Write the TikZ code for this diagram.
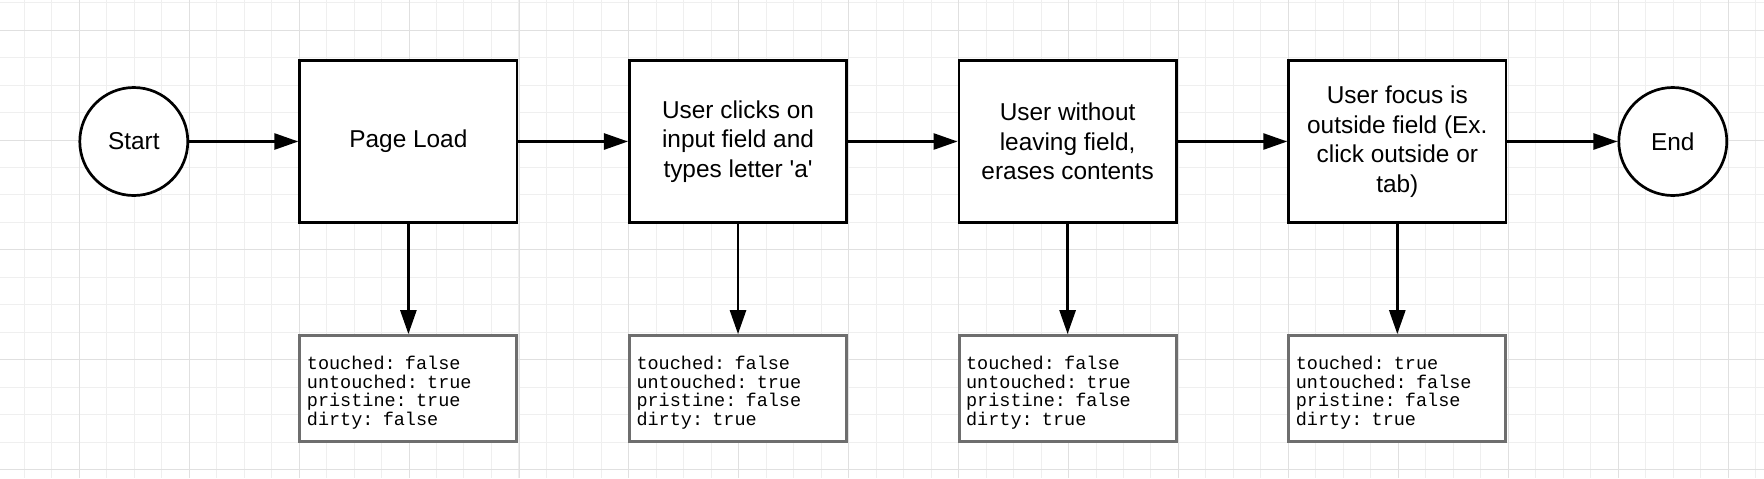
\documentclass[tikz,border=0pt]{standalone}
\usepackage{fontspec}
\setmainfont{Liberation Sans}[Ligatures=TeXOff]
\newfontfamily\statefont{Liberation Mono}
\usetikzlibrary{arrows.meta}
\definecolor{minorgrid}{HTML}{EFEFEF}
\definecolor{majorgrid}{HTML}{E0E0E0}
\definecolor{stateborder}{HTML}{6E6E6E}

\begin{document}
\begin{tikzpicture}[x=0.5pt, y=-0.5pt,
  terminal/.style={circle, draw, line width=1.35pt, fill=white, minimum size=54pt, inner sep=0pt, font=\fontsize{12.2}{15}\selectfont},
  stepbox/.style={rectangle, draw, line width=1.35pt, fill=white, minimum width=108.7pt, minimum height=81.2pt, align=center, font=\fontsize{12.2}{14.8}\selectfont},
  statebox/.style={rectangle, draw=stateborder, line width=1.5pt, fill=white, text width=101.5pt, inner xsep=3.5pt, minimum height=53pt, align=left, font=\statefont\fontsize{9.25}{9.25}\selectfont, execute at begin node={\rule{0pt}{10.6pt}}},
  flow/.style={line width=1.35pt, -{Triangle[length=12pt, width=8pt]}}]

\fill[white] (0,0) rectangle (1764,478);
\useasboundingbox (0,0) rectangle (1764,478);

% background grid
\foreach \i in {0,...,64} \draw[minorgrid, line width=0.5pt] ({-3.2+27.48*\i},0) -- ++(0,478);
\foreach \i in {0,...,17} \draw[minorgrid, line width=0.5pt] (0,{2.6+27.48*\i}) -- ++(1764,0);
\foreach \i in {0,...,15} \draw[majorgrid, line width=0.5pt] ({79.3+109.93*\i},0) -- ++(0,478);
\foreach \i in {0,...,4} \draw[majorgrid, line width=0.5pt] (0,{30.1+109.93*\i}) -- ++(1764,0);

% steps
\node[terminal] (start) at (133.8,141.5) {Start};
\node[stepbox] (load) at (408.4,141.5) {Page Load};
\node[stepbox] (click) at (738,141.5) {User clicks on\\input field and\\types letter 'a'};
\node[stepbox] (erase) at (1067.6,141.5) {User without\\leaving field,\\erases contents};
\node[stepbox] (blur) at (1397.3,141.5) {User focus is\\outside field (Ex.\\click outside or\\tab)};
\node[terminal] (end) at (1672.8,141.5) {End};

% form states
\node[statebox] (loadstate) at (408.4,388.6) {touched: false\\untouched: true\\pristine: true\\dirty: false};
\node[statebox] (clickstate) at (738,388.6) {touched: false\\untouched: true\\pristine: false\\dirty: true};
\node[statebox] (erasestate) at (1067.6,388.6) {touched: false\\untouched: true\\pristine: false\\dirty: true};
\node[statebox] (blurstate) at (1397.3,388.6) {touched: true\\untouched: false\\pristine: false\\dirty: true};

\draw[flow] (start) -- (load);
\draw[flow] (load) -- (click);
\draw[flow] (click) -- (erase);
\draw[flow] (erase) -- (blur);
\draw[flow] (blur) -- (end);

\draw[flow] (load) -- (loadstate);
\draw[flow] (click) -- (clickstate);
\draw[flow] (erase) -- (erasestate);
\draw[flow] (blur) -- (blurstate);
\end{tikzpicture}
\end{document}
